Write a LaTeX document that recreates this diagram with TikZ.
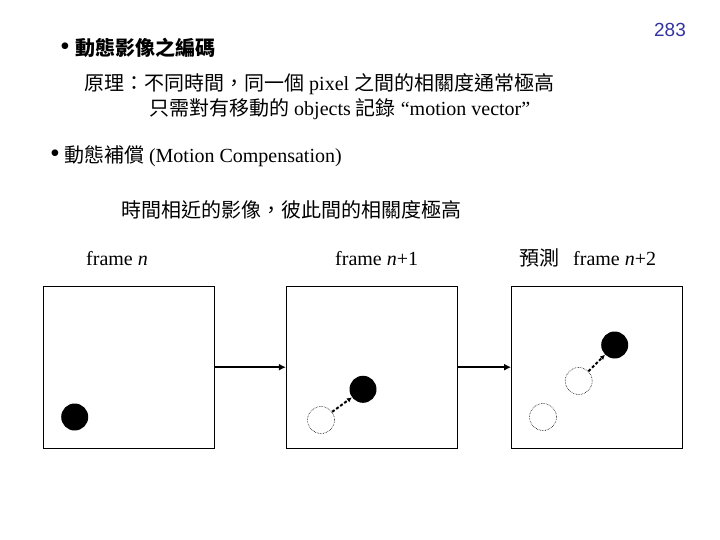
\documentclass[tikz,border=0pt]{standalone}
\usepackage{fontspec}
\setmainfont{Liberation Serif}
\newfontfamily\cjk{Noto Sans CJK TC}
\newfontfamily\pagefont{Liberation Sans}
\usepackage{tikz}
\usetikzlibrary{arrows.meta,positioning}
\newcommand{\zh}[1]{{\cjk #1}}
\newcommand{\dotmark}{{\fontsize{28}{28}\selectfont\textbullet}}
\definecolor{pagenum}{RGB}{51,51,160}

\begin{document}
\begin{tikzpicture}[
    x=1pt, y=-1pt,
    txt/.style={font=\fontsize{20}{22}\selectfont, inner sep=0pt, anchor=base west},
    framebox/.style={draw=black, line width=1.2pt, fill=white,
                     minimum width=171pt, minimum height=162pt, inner sep=0pt},
    obj/.style={circle, fill=black, minimum size=27pt, inner sep=0pt},
    ghost/.style={circle, draw=black, line width=0.6pt, densely dotted,
                  minimum size=27pt, inner sep=0pt},
    flow/.style={-{Latex[length=7pt,width=7pt]}, line width=1.8pt},
    move/.style={-{Latex[length=5pt,width=5pt]}, line width=2pt,
                 dash pattern=on 3pt off 2pt}
]
\useasboundingbox (0,0) rectangle (720,540);

% page number
\node[inner sep=0pt, anchor=base, text=pagenum,
      font=\pagefont\fontsize{19}{21}\selectfont] (page) at (670,36.7) {283};

% headings and text
\node[txt] (title) at (60,55.6) {\dotmark\hspace{5pt}\zh{\bfseries 動態影像之編碼}};
\node[txt] (rule1) at (84,90.6) {\zh{原理：不同時間，同一個} pixel \zh{之間的相關度通常極高}};
\node[txt] (rule2) at (149,115.6) {\zh{只需對有移動的} objects \zh{記錄} ``motion vector''};
\node[txt] (mc) at (50,162.6) {\dotmark\hspace{4pt}\zh{動態補償} (Motion Compensation)};
\node[txt] (near) at (121,217.6) {\zh{時間相近的影像，彼此間的相關度極高}};

% frame labels
\node[txt] (lab1) at (86,265) {frame \textit{n}};
\node[txt] (lab2) at (335,265) {frame \textit{n}+1};
\node[txt] (lab3) at (519,265) {\zh{預測}\hspace{14pt}frame \textit{n}+2};

% frames
\node[framebox] (f1) at (128.8,367.2) {};
\node[framebox] (f2) at (372,367.2) {};
\node[framebox] (f3) at (597.2,367.2) {};

\draw[flow] (f1.east) -- (f2.west);
\draw[flow] (f2.east) -- (f3.west);

% objects
\node[obj] (a1) at (74.7,417) {};

\node[ghost] (b0) at (321,420) {};
\node[obj]   (b1) at (363,389.3) {};

\node[ghost] (c0) at (543,417) {};
\node[ghost] (c1) at (578.7,381) {};
\node[obj]   (c2) at (614.7,345) {};

\draw[move] (b0) -- (b1);
\draw[move] (c1) -- (c2);
\end{tikzpicture}
\end{document}
